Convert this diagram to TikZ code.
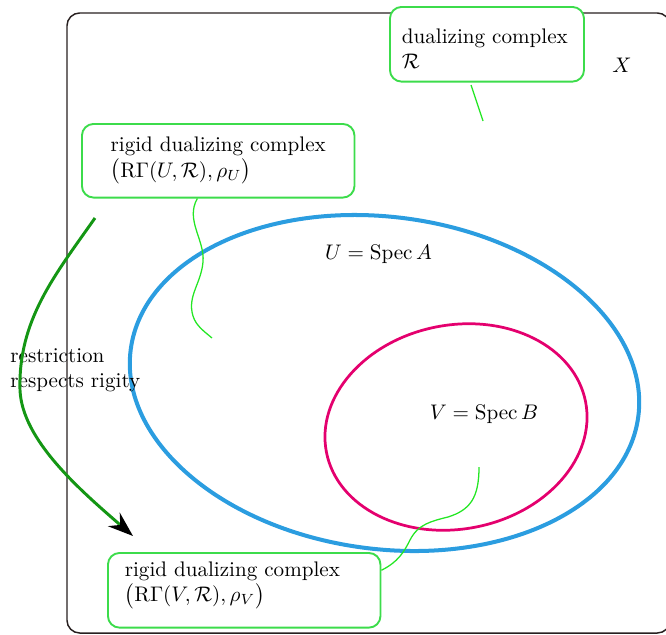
\documentclass[tikz,border=0pt]{standalone}
\usepackage{amsmath}
\usepackage{tikz}
\usetikzlibrary{arrows.meta}

\definecolor{framebrown}{RGB}{40,32,32}
\definecolor{boxgreen}{RGB}{60,220,75}
\definecolor{wiggreen}{RGB}{35,230,35}
\definecolor{arrowgreen}{RGB}{20,150,20}
\definecolor{specblue}{RGB}{43,157,224}
\definecolor{specred}{RGB}{228,0,110}

\begin{document}
\begin{tikzpicture}[x=0.01666cm,y=-0.01666cm,
  box/.style={draw=boxgreen,fill=white,line width=0.9pt,rounded corners=5.5pt,
    anchor=north west,align=left,inner ysep=0pt},
  wiggle/.style={wiggreen,line width=0.6pt}]
  \useasboundingbox (0,0) rectangle (666,634);
  \clip (0,0) rectangle (666,634);
  \draw[framebrown,line width=0.7pt,rounded corners=6pt] (67,13) rectangle (670,633);
  \draw[specblue,line width=1.9pt,rotate around={-7.6:(384.5,383)}]
    (384.5,383) ellipse [x radius=256,y radius=166];
  \draw[specred,line width=1.3pt,rotate around={11:(456,427)}]
    (456,427) ellipse [x radius=132,y radius=102];

  \node[box,inner xsep=5.7pt,text width=80.6pt,minimum height=35.4pt] (dual) at (389,6)
    {\rule{0pt}{10.9pt}dualizing complex\\$\mathcal{R}$};
  \node[box,inner xsep=13.6pt,text width=102pt,minimum height=34.9pt] (rigidU) at (81,123)
    {rigid dualizing complex\\$\bigl(\mathrm{R}\Gamma(U,\mathcal{R}),\rho_U\bigr)$};
  \node[box,inner xsep=8pt,text width=113.2pt,minimum height=35.4pt] (rigidV) at (107,552)
    {rigid dualizing complex\\$\bigl(\mathrm{R}\Gamma(V,\mathcal{R}),\rho_V\bigr)$\rule[-8.3pt]{0pt}{0pt}};

  \node (xlabel) at (622,65) {$X$};
  \node (ulabel) at (378.5,254) {$U=\operatorname{Spec}A$};
  \node (vlabel) at (484,414) {$V=\operatorname{Spec}B$};
  \node[anchor=west,align=left,inner sep=0pt] (restr) at (10,370) {restriction\\respects rigity};

  \coordinate (rtail) at (471,85);
  \coordinate (rhead) at (483,121);
  \coordinate (uend) at (212,338);
  \coordinate (vend) at (479,467);
  \coordinate (resfrom) at (95,218);
  \coordinate (resto) at (133,536);

  \draw[wiggle] (rtail) -- (rhead);
  \draw[wiggle] ([xshift=-9.9pt]rigidU.south) .. controls (185,220) and (205,240) .. (203,262)
    .. controls (201,284) and (187,296) .. (193,316) .. controls (196,326) and (205,332) .. (uend);
  \draw[wiggle] ([yshift=9.5pt]rigidV.east) .. controls (398,562) and (404,552) .. (410,540)
    .. controls (418,524) and (432,521) .. (448,517) .. controls (470,510) and (479,498) .. (vend);

  \draw[arrowgreen,line width=1.4pt,-{Stealth[length=12pt,width=8.5pt,inset=4pt,black]}]
    (resfrom) .. controls (55,275) and (18,320) .. (20,390)
    .. controls (22,440) and (80,490) .. (resto);
\end{tikzpicture}
\end{document}
